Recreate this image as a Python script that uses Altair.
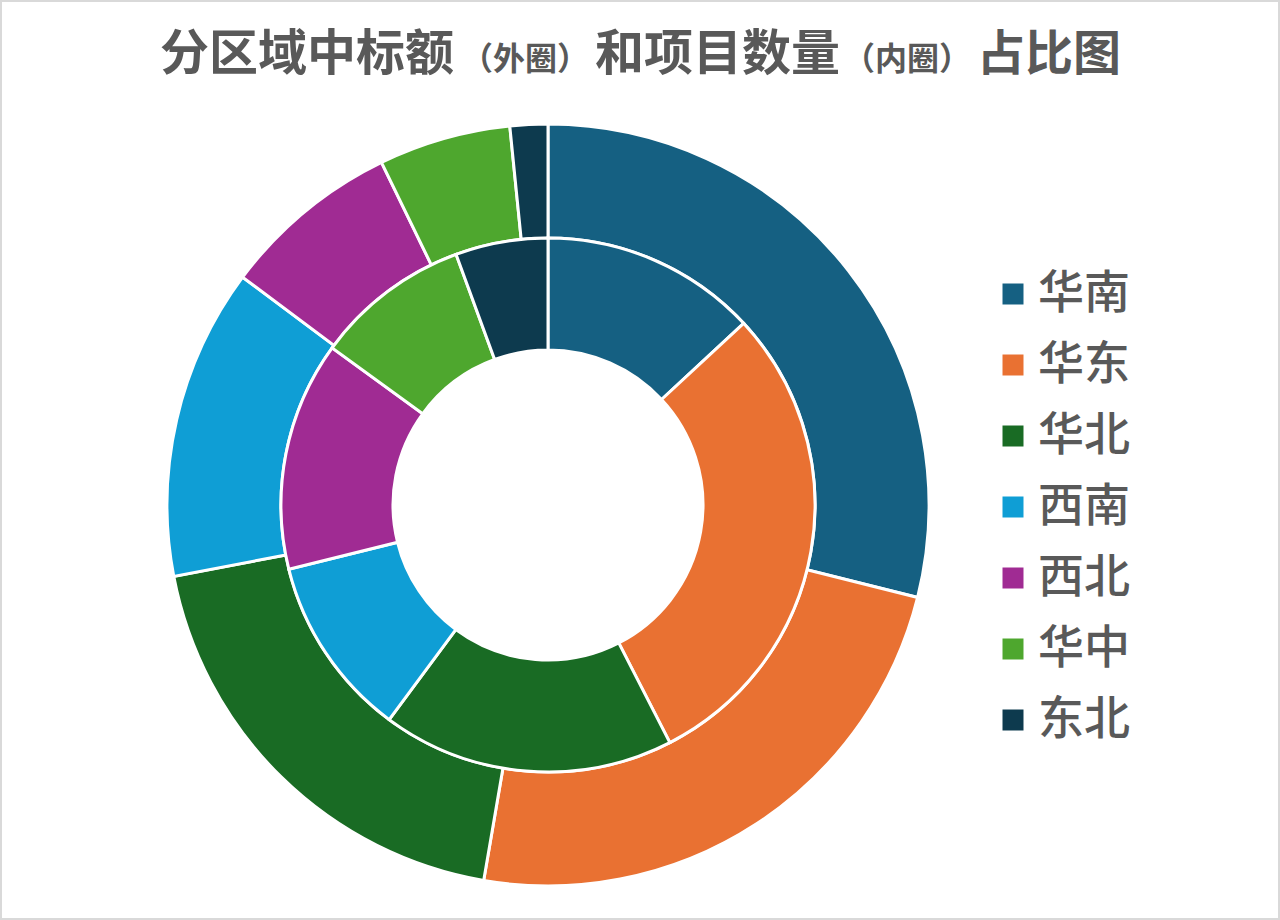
import altair as alt
import pandas as pd

regions = ["华南", "华东", "华北", "西南", "西北", "华中", "东北"]
outer_values = [28.9, 23.8, 19.3, 13.2, 7.6, 5.6, 1.6]   # 中标额占比 (外圈)
inner_values = [13.1, 29.4, 17.7, 11.0, 13.9, 9.4, 5.6]  # 项目数量占比 (内圈)
colors = ["#156082", "#E97132", "#196B24", "#0F9ED5", "#A02B93", "#4EA72E", "#0D3A4E"]

title_big_1 = "分区域中标额"
title_small_1 = "（外圈）"
title_big_2 = "和项目数量"
title_small_2 = "（内圈）"
title_big_3 = "占比图"

outer_df = pd.DataFrame({"region": regions, "value": outer_values, "idx": range(len(regions))})
inner_df = pd.DataFrame({"region": regions, "value": inner_values, "idx": range(len(regions))})

FONT = "Noto Sans CJK SC"
TXT = "#595959"
CX, CY = 548, 505

color_enc = alt.Color(
    "region:N",
    scale=alt.Scale(domain=regions, range=colors),
    sort=regions,
    legend=alt.Legend(
        title=None,
        orient="none",
        legendX=990,
        legendY=271,
        symbolType="square",
        symbolSize=441,
        symbolStrokeWidth=0,
        symbolOpacity=1,
        labelFont=FONT,
        labelFontSize=46,
        labelFontWeight=500,
        labelColor=TXT,
        labelOffset=2,
        rowPadding=25,
        padding=0,
    ),
)

outer = alt.Chart(outer_df).mark_arc(stroke="white", strokeWidth=3).encode(
    theta=alt.Theta("value:Q", stack=True),
    order=alt.Order("idx:Q"),
    color=color_enc,
    x=alt.value(CX),
    y=alt.value(CY),
    radius=alt.value(381),
    radius2=alt.value(267),
)

inner = alt.Chart(inner_df).mark_arc(stroke="white", strokeWidth=3).encode(
    theta=alt.Theta("value:Q", stack=True),
    order=alt.Order("idx:Q"),
    color=color_enc,
    x=alt.value(CX),
    y=alt.value(CY),
    radius=alt.value(267),
    radius2=alt.value(155),
)

def title_piece(text, x, size):
    return alt.Chart(pd.DataFrame({"t": [text]})).mark_text(
        font=FONT, fontSize=size, fontWeight="bold", color=TXT,
        align="left", baseline="alphabetic",
    ).encode(text="t:N", x=alt.value(x), y=alt.value(70))

border = alt.Chart(pd.DataFrame({"a": [0]})).mark_rect(
    fill=None, stroke="#D9D9D9", strokeWidth=2
).encode(x=alt.value(1), x2=alt.value(1279), y=alt.value(1), y2=alt.value(919))

chart = alt.layer(
    border,
    outer,
    inner,
    title_piece(title_big_1, 160, 49),
    title_piece(title_small_1, 461, 32),
    title_piece(title_big_2, 595, 49),
    title_piece(title_small_2, 843, 32),
    title_piece(title_big_3, 977, 48),
).resolve_scale(theta="independent").properties(
    width=1280, height=920, padding=0, autosize=alt.AutoSizeParams(type="none")
).configure_view(stroke=None).configure(background="white")

chart.save("out.html", embed_options={"renderer": "svg", "actions": False})
